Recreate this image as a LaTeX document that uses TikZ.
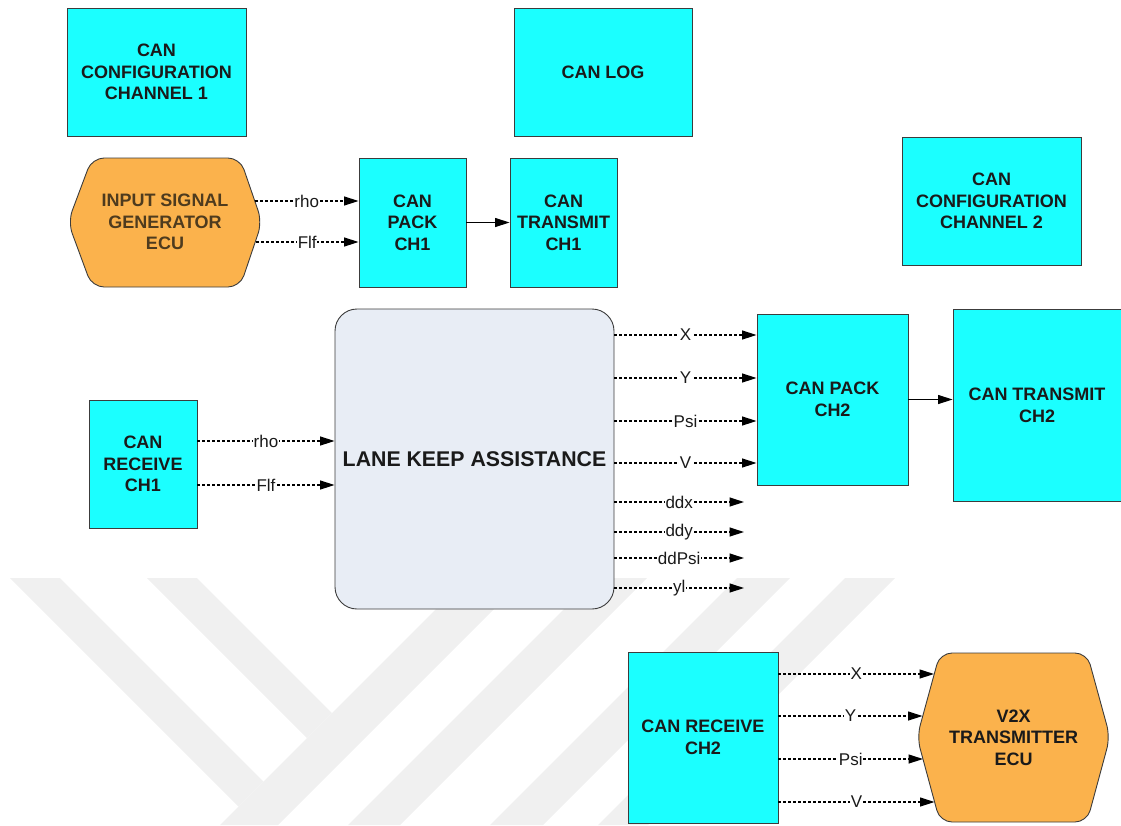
\documentclass[tikz,border=0pt]{standalone}
\usepackage{fontspec}
\setmainfont{Liberation Sans}
\usetikzlibrary{arrows.meta,calc}
\definecolor{cy}{HTML}{1BFFFF}
\definecolor{orng}{HTML}{FBB24C}
\definecolor{lkafill}{HTML}{E8EDF5}
\definecolor{bord}{HTML}{3C3C3C}
\definecolor{wm}{HTML}{F0F0F0}
\definecolor{isgtxt}{HTML}{4E3B1E}
\definecolor{txt}{HTML}{1A1A1A}
\begin{document}
\begin{tikzpicture}[x=1pt,y=-1pt,
  blk/.style={draw=bord, line width=0.9pt, fill=cy, align=center, text=txt,
    font=\fontsize{18}{21.6}\selectfont\bfseries, inner sep=0pt},
  sig/.style={line width=1.2pt, dash pattern=on 3pt off 2pt, -{Triangle[length=14.5pt,width=9pt]}},
  solidarr/.style={line width=1pt, -{Triangle[length=14.5pt,width=9pt]}},
  lbl/.style={fill=white, inner sep=0.6pt, text=txt, font=\fontsize{17}{18}\selectfont},
  hex/.style={draw=bord, line width=0.9pt, fill=orng, rounded corners=12pt},
  hextxt/.style={align=center, font=\fontsize{18}{21.6}\selectfont\bfseries, inner sep=0pt},
  wmark/.style={fill=wm, draw=none}]
\useasboundingbox (0,0) rectangle (1121,825);
% watermark
\fill[wmark] (10,578) -- (60,578) -- (263.5,781.5) -- (238.5,806.5) -- cycle;
\fill[wmark] (147,578) -- (197,578) -- (332,713) -- (307,738) -- cycle;
\fill[wmark] (467,578) -- (525,578) -- (278,825) -- (220,825) -- cycle;
\fill[wmark] (595,578) -- (647,578) -- (400,825) -- (348,825) -- cycle;
\fill[wmark] (737,578) -- (790,578) -- (543,825) -- (490,825) -- cycle;
\fill[wmark] (845,578) -- (895,578) -- (648,825) -- (598,825) -- cycle;
% blocks
\node[blk, minimum width=179pt, minimum height=128pt] (cfg1) at (156.5,72) {CAN\\CONFIGURATION\\CHANNEL 1};
\node[blk, minimum width=178pt, minimum height=128pt] (log) at (603,72) {CAN LOG};
\node[blk, minimum width=179pt, minimum height=128pt] (cfg2) at (991.5,201) {CAN\\CONFIGURATION\\CHANNEL 2};
\node[blk, minimum width=107pt, minimum height=129pt] (pack1) at (412.5,222.5) {CAN\\PACK\\CH1};
\node[blk, minimum width=107pt, minimum height=129pt] (tx1) at (563.5,222.5) {CAN\\TRANSMIT\\CH1};
\node[draw=bord, line width=0.9pt, fill=lkafill, rounded corners=22pt, minimum width=279pt, minimum height=300pt,
  text=txt, font=\fontsize{21.3}{24}\selectfont\bfseries, inner sep=0pt] (lka) at (474.5,459) {LANE KEEP ASSISTANCE};
\node[blk, minimum width=108pt, minimum height=128pt] (rx1) at (143,464) {CAN\\RECEIVE\\CH1};
\node[blk, minimum width=151pt, minimum height=171pt] (pack2) at (832.5,399.5) {CAN PACK\\CH2};
\node[blk, minimum width=168pt, minimum height=192pt] (tx2) at (1037,405) {CAN TRANSMIT\\CH2};
\node[blk, minimum width=150pt, minimum height=171pt] (rx2) at (703,737.5) {CAN RECEIVE\\CH2};
% hexagons
\draw[hex] (92,158) -- (240,158) -- (262,222) -- (240,287) -- (92,287) -- (68,222) -- cycle;
\node[hextxt, text=isgtxt] (isg) at (165,222) {INPUT SIGNAL\\GENERATOR\\ECU};
\draw[hex] (940,653) -- (1087,653) -- (1110,737) -- (1087,822) -- (940,822) -- (917,737) -- cycle;
\node[hextxt, text=txt] (v2x) at (1013.5,737.5) {V2X\\TRANSMITTER\\ECU};
% coordinates
\coordinate (isgR) at (255,201);
\coordinate (isgF) at (256,242);
\coordinate (rxR) at (0,441);
\coordinate (rxF) at (0,485);
\coordinate (yX) at (0,335);
\coordinate (yY) at (0,378);
\coordinate (yPsi) at (0,421);
\coordinate (yV) at (0,463);
\coordinate (eddx) at (744,502);
\coordinate (eddy) at (744,532);
\coordinate (eddPsi) at (744,558);
\coordinate (eyl) at (744,588);
\coordinate (vX) at (934,674);
\coordinate (vY) at (922.5,716);
\coordinate (vPsi) at (923,759);
\coordinate (vV) at (934.5,802);
% connectors
\draw[sig] (isgR) -- node[lbl]{rho} (isgR -| pack1.west);
\draw[sig] (isgF) -- node[lbl]{Flf} (isgF -| pack1.west);
\draw[solidarr] (pack1.east) -- (tx1.west);
\draw[sig] (rxR -| rx1.east) -- node[lbl]{rho} (rxR -| lka.west);
\draw[sig] (rxF -| rx1.east) -- node[lbl]{Flf} (rxF -| lka.west);
\draw[sig] (yX -| lka.east) -- node[lbl]{X} (yX -| pack2.west);
\draw[sig] (yY -| lka.east) -- node[lbl]{Y} (yY -| pack2.west);
\draw[sig] (yPsi -| lka.east) -- node[lbl]{Psi} (yPsi -| pack2.west);
\draw[sig] (yV -| lka.east) -- node[lbl]{V} (yV -| pack2.west);
\draw[sig] (eddx -| lka.east) -- node[lbl]{ddx} (eddx);
\draw[sig] (eddy -| lka.east) -- node[lbl]{ddy} (eddy);
\draw[sig] (eddPsi -| lka.east) -- node[lbl]{ddPsi} (eddPsi);
\draw[sig] (eyl -| lka.east) -- node[lbl]{yl} (eyl);
\draw[solidarr] (pack2.east) -- (pack2.east -| tx2.west);
\draw[sig] (vX -| rx2.east) -- node[lbl]{X} (vX);
\draw[sig] (vY -| rx2.east) -- node[lbl]{Y} (vY);
\draw[sig] (vPsi -| rx2.east) -- node[lbl]{Psi} (vPsi);
\draw[sig] (vV -| rx2.east) -- node[lbl]{V} (vV);
\end{tikzpicture}
\end{document}
